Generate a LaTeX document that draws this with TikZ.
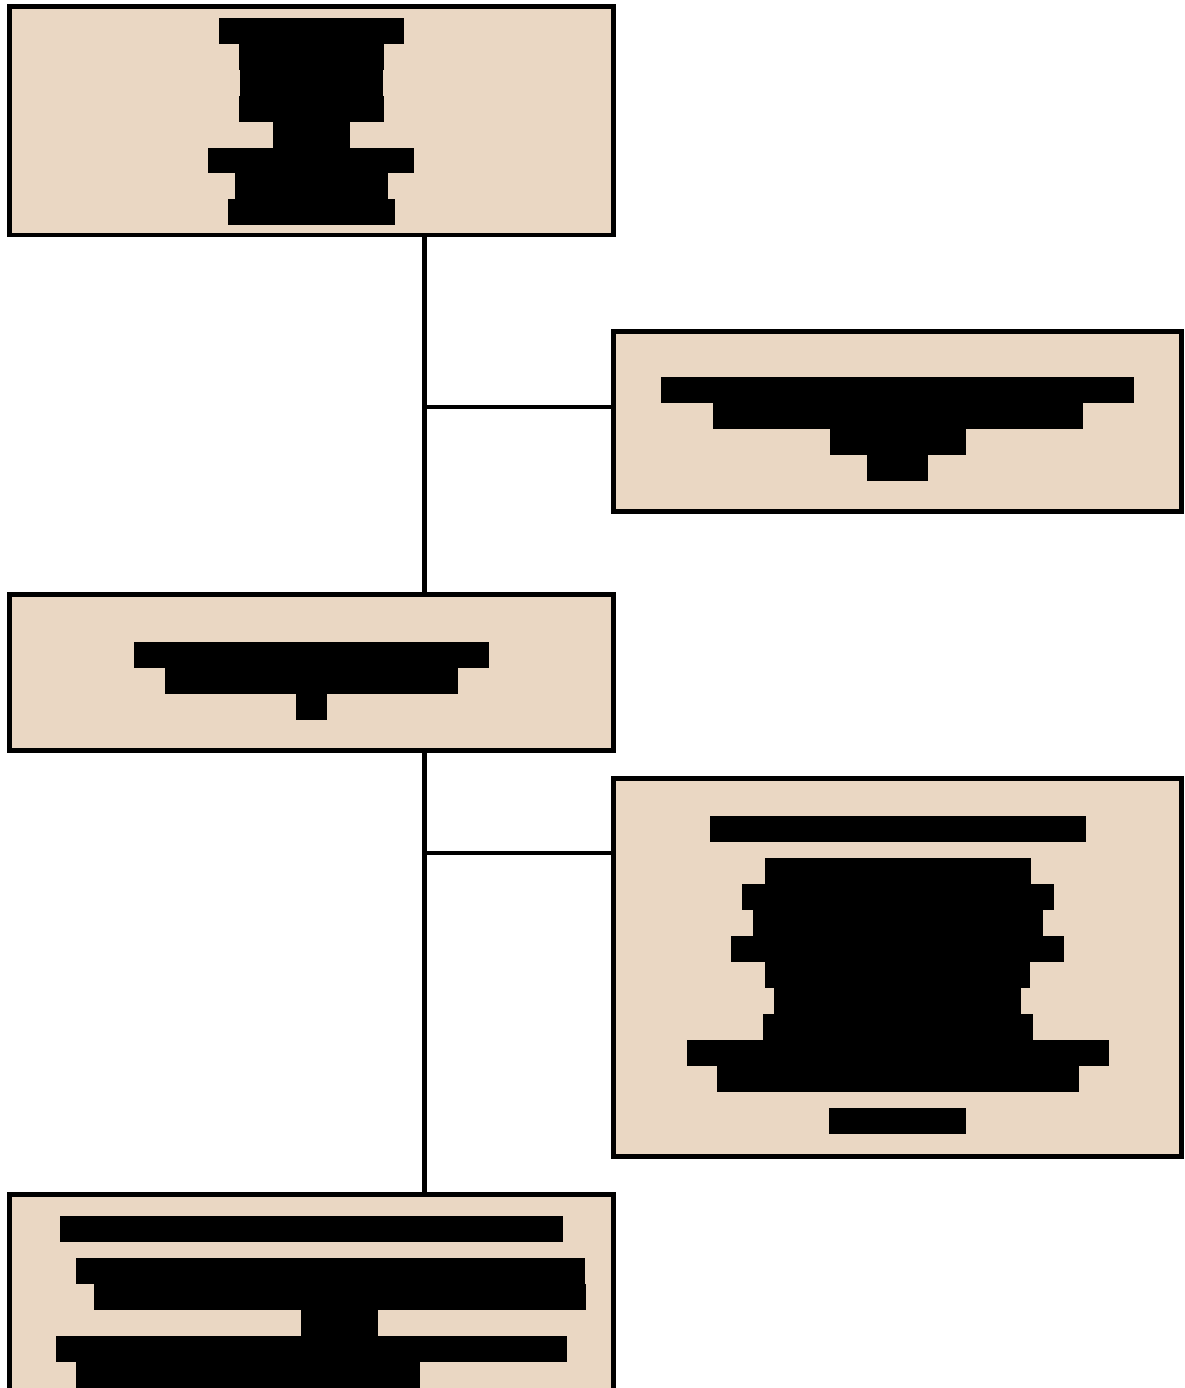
\documentclass[tikz,border=0pt]{standalone}
\definecolor{boxfill}{RGB}{234,215,195}
\tikzset{
  box/.style={draw=black, fill=boxfill, line width=4.5pt, rectangle, inner sep=0pt, outer sep=0pt},
  link/.style={draw=black, line width=4.5pt},
  redact/.style={fill=black}
}
\begin{document}
\begin{tikzpicture}[x=1pt,y=-1pt]
\useasboundingbox[fill=white] (0,0) rectangle (1184,1388);
% boxes
\node[box, minimum width=604pt, minimum height=228.5pt] (b1) at (311.5,120.75) {};
\node[box, minimum width=568pt, minimum height=180pt] (b2) at (897.5,421.5) {};
\node[box, minimum width=604pt, minimum height=156pt] (b3) at (311.5,672.5) {};
\node[box, minimum width=568pt, minimum height=378pt] (b4) at (897.5,967.5) {};
\node[box, minimum width=604pt, minimum height=305.5pt] (b5) at (311.5,1347.25) {};
% connectors
\coordinate (t) at (424.5,0);
\coordinate (j1) at (424.5,407);
\coordinate (j2) at (424.5,853);
\draw[link] (b1.south -| t) -- (b3.north -| t);
\draw[link] (b3.south -| t) -- (b5.north -| t);
\draw[link] (j1) -- (j1 -| b2.west);
\draw[link] (j2) -- (j2 -| b4.west);
% redacted text, box 1
\foreach \xa/\xb/\ya/\yb in {219/404/18/44, 239/384/44/70, 240/383/70/96, 239/384/96/122,
  273/350/122/148, 208/414/148/173, 235/388/173/199, 228/395/199/225}
  \fill[redact] (\xa,\ya) rectangle (\xb,\yb);
% box 2
\foreach \xa/\xb/\ya/\yb in {661/1134/377/403, 713/1083/403/429, 830/966/429/455, 867/928/455/481}
  \fill[redact] (\xa,\ya) rectangle (\xb,\yb);
% box 3
\foreach \xa/\xb/\ya/\yb in {134/489/642/668, 165/458/668/694, 296/327/694/720}
  \fill[redact] (\xa,\ya) rectangle (\xb,\yb);
% box 4
\foreach \xa/\xb/\ya/\yb in {710/1086/816/842, 765/1031/858/884, 742/1054/884/910, 753/1043/910/936,
  731/1064/936/962, 765/1030/962/988, 774/1021/988/1014, 763/1033/1014/1040,
  687/1109/1040/1066, 717/1079/1066/1092, 829/966/1108/1134}
  \fill[redact] (\xa,\ya) rectangle (\xb,\yb);
% box 5
\foreach \xa/\xb/\ya/\yb in {60/563/1216/1242, 76/585/1258/1284, 94/586/1284/1310, 301/378/1310/1336,
  56/567/1336/1362, 76/420/1362/1400}
  \fill[redact] (\xa,\ya) rectangle (\xb,\yb);
\end{tikzpicture}
\end{document}
